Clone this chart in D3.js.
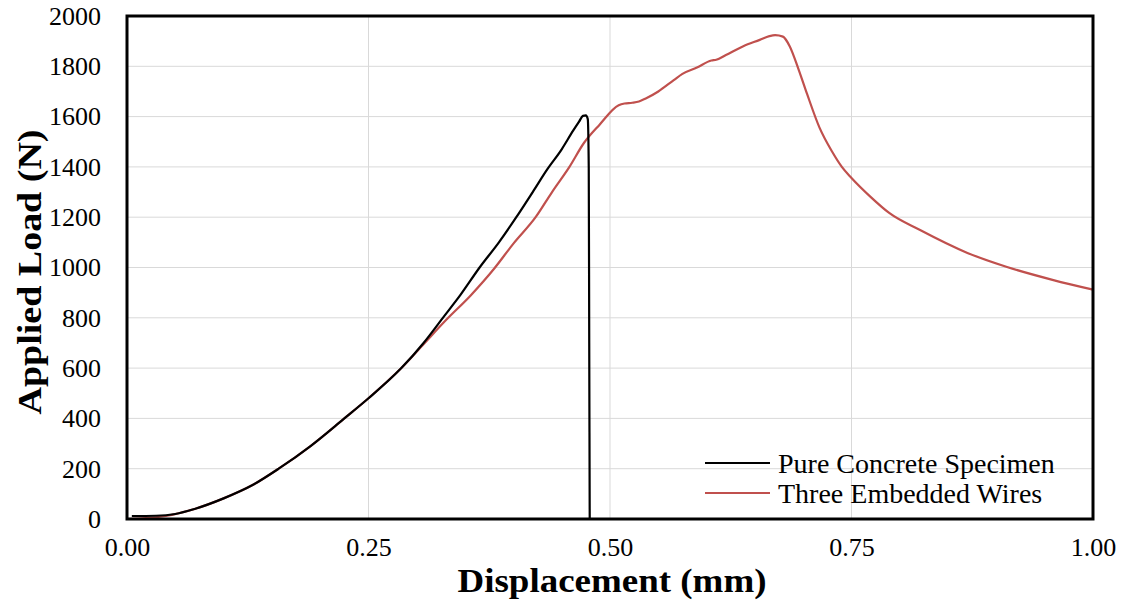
<!DOCTYPE html>
<html>
<head>
<meta charset="utf-8">
<script src="https://cdn.jsdelivr.net/npm/d3@7"></script>
<style>
  body { margin: 0; background: #fff; }
  text { font-family: "Liberation Serif", "Times New Roman", serif; }
</style>
</head>
<body>
<svg id="chart" width="1127" height="608"></svg>
<script>
// Pure concrete specimen (displacement mm, load N)
const pureX = [0.005, 0.03, 0.05, 0.07, 0.1, 0.13, 0.157, 0.19, 0.225, 0.25, 0.284, 0.307, 0.327, 0.345, 0.365, 0.385, 0.403, 0.42, 0.435, 0.45, 0.462, 0.468, 0.472, 0.475, 0.477, 0.478, 0.4785, 0.479];
const pureY = [12, 13, 20, 40, 82, 135, 200, 290, 400, 480, 600, 700, 800, 890, 1000, 1100, 1200, 1300, 1390, 1470, 1545, 1580, 1603, 1605, 1590, 1400, 700, 0];

// Three embedded wires
const wiresX = [0.0, 0.04, 0.07, 0.1, 0.13, 0.157, 0.19, 0.225, 0.25, 0.284, 0.307, 0.33, 0.356, 0.38, 0.40, 0.423, 0.44, 0.458, 0.473, 0.489, 0.509, 0.515, 0.523, 0.53, 0.537, 0.55, 0.566, 0.575, 0.59, 0.605, 0.61, 0.62, 0.638, 0.655, 0.665, 0.671, 0.679, 0.686, 0.695, 0.704, 0.717, 0.73, 0.74, 0.75, 0.77, 0.789, 0.821, 0.87, 0.911, 0.959, 1.0];
const wiresY = [0, 12, 40, 82, 135, 200, 290, 400, 480, 600, 695, 790, 890, 995, 1095, 1200, 1300, 1400, 1495, 1567, 1645, 1652, 1655, 1660, 1672, 1700, 1745, 1770, 1795, 1823, 1826, 1845, 1880, 1905, 1920, 1924, 1918, 1880, 1790, 1690, 1555, 1460, 1400, 1356, 1280, 1217, 1149, 1058, 1002, 950, 912];

const xTicks = [0, 0.25, 0.5, 0.75, 1.0];
const yTicks = [0, 200, 400, 600, 800, 1000, 1200, 1400, 1600, 1800, 2000];
const seriesNames = ['Pure Concrete Specimen', 'Three Embedded Wires'];
const seriesColors = ['#000000', '#c0504d'];

const serif = '"Liberation Serif", "Times New Roman", serif';
const svg = d3.select('#chart');
const plotLeft = 127, plotRight = 1093, plotTop = 16, plotBottom = 519;

const x = d3.scaleLinear().domain([0, 1]).range([plotLeft, plotRight]);
const y = d3.scaleLinear().domain([0, 2000]).range([plotBottom, plotTop]);

// Gridlines
svg.append('g')
    .selectAll('line')
    .data(yTicks.slice(1, -1))
    .enter().append('line')
    .attr('x1', plotLeft).attr('x2', plotRight)
    .attr('y1', d => y(d)).attr('y2', d => y(d))
    .attr('stroke', '#d9d9d9').attr('stroke-width', 1);

svg.append('g')
    .selectAll('line')
    .data(xTicks.slice(1, -1))
    .enter().append('line')
    .attr('x1', d => x(d)).attr('x2', d => x(d))
    .attr('y1', plotTop).attr('y2', plotBottom)
    .attr('stroke', '#d9d9d9').attr('stroke-width', 1);

// Axes (labels only)
const xAxis = svg.append('g')
    .attr('transform', `translate(0, ${plotBottom})`)
    .call(d3.axisBottom(x).tickValues(xTicks).tickFormat(d3.format('.2f')).tickSize(0).tickPadding(19));
const yAxis = svg.append('g')
    .attr('transform', `translate(${plotLeft}, 0)`)
    .call(d3.axisLeft(y).tickValues(yTicks).tickFormat(d3.format('d')).tickSize(0).tickPadding(26));
[xAxis, yAxis].forEach(a => {
    a.attr('font-family', serif).attr('font-size', 26);
    a.select('.domain').remove();
    a.selectAll('text')
        .style('font-family', serif)
        .style('font-size', '26px')
        .attr('fill', '#000');
});

// Lines
const line = d3.line().x(d => x(d[0])).y(d => y(d[1])).curve(d3.curveMonotoneX);

svg.append('path')
    .datum(wiresX.map((v, i) => [v, wiresY[i]]))
    .attr('d', line)
    .attr('fill', 'none')
    .attr('stroke', seriesColors[1])
    .attr('stroke-width', 2.2);

svg.append('path')
    .datum(pureX.map((v, i) => [v, pureY[i]]))
    .attr('d', line)
    .attr('fill', 'none')
    .attr('stroke', seriesColors[0])
    .attr('stroke-width', 2.2);

// Plot frame
svg.append('rect')
    .attr('x', plotLeft).attr('y', plotTop)
    .attr('width', plotRight - plotLeft).attr('height', plotBottom - plotTop)
    .attr('fill', 'none').attr('stroke', '#000').attr('stroke-width', 3);

// Axis titles
svg.append('text')
    .attr('x', 612).attr('y', 592)
    .attr('text-anchor', 'middle')
    .attr('textLength', 309).attr('lengthAdjust', 'spacingAndGlyphs')
    .style('font-family', serif)
    .style('font-size', '34px').style('font-weight', 'bold')
    .text('Displacement (mm)');

svg.append('text')
    .attr('transform', 'translate(41, 272) rotate(-90)')
    .attr('text-anchor', 'middle')
    .attr('textLength', 285).attr('lengthAdjust', 'spacingAndGlyphs')
    .style('font-family', serif)
    .style('font-size', '34px').style('font-weight', 'bold')
    .text('Applied Load (N)');

// Legend
const legend = svg.append('g').attr('transform', 'translate(705, 463)');
seriesNames.forEach((name, i) => {
    const g = legend.append('g').attr('transform', `translate(0, ${i * 30})`);
    g.append('line')
        .attr('x1', 0).attr('x2', 65)
        .attr('stroke', seriesColors[i]).attr('stroke-width', 2.2);
    g.append('text')
        .attr('x', 73).attr('y', 10)
        .style('font-family', serif)
        .style('font-size', '28px')
        .text(name);
});
</script>
</body>
</html>
